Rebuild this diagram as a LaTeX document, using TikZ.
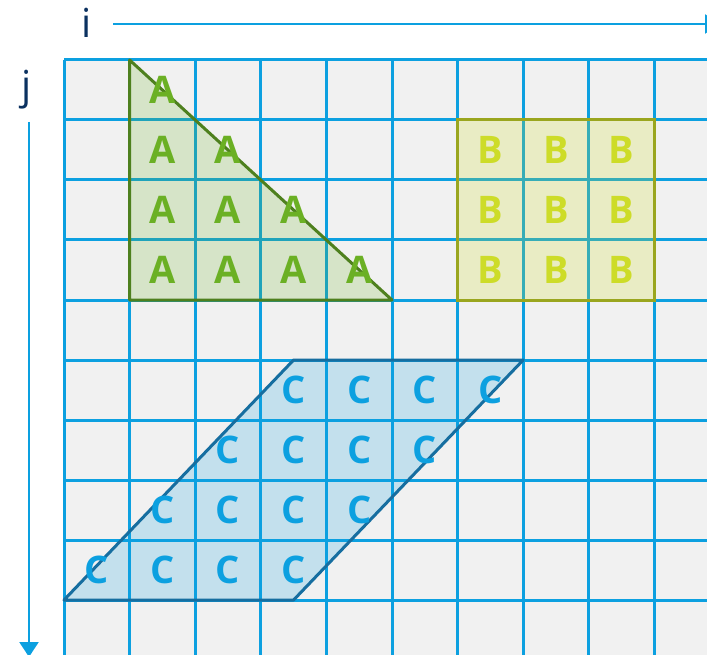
\documentclass[tikz,border=0pt]{standalone}
\usepackage{fontspec}
\setmainfont{Open Sans}
\usetikzlibrary{arrows.meta}
\definecolor{gridblue}{RGB}{12,160,224}
\definecolor{gridbg}{RGB}{241,241,241}
\definecolor{navy}{RGB}{11,49,96}
\definecolor{agreen}{RGB}{107,176,36}
\definecolor{aline}{RGB}{78,128,30}
\definecolor{byellow}{RGB}{205,220,40}
\definecolor{bline}{RGB}{154,166,30}
\definecolor{cblue}{RGB}{12,160,224}
\definecolor{cline}{RGB}{22,110,160}
\tikzset{
  gridline/.style={draw=gridblue, line width=3pt},
  axisarrow/.style={draw=gridblue, line width=2.4pt, -{Triangle[length=15pt,width=19pt]}},
  axislabel/.style={text=navy, inner sep=0pt, font=\fontsize{40}{44}\selectfont},
  letter/.style={inner sep=0pt, anchor=center, font=\bfseries\fontsize{38}{40}\selectfont},
  aletter/.style={letter, text=agreen},
  bletter/.style={letter, text=byellow},
  cletter/.style={letter, text=cblue},
  afill/.style={fill=agreen, fill opacity=0.2},
  bfill/.style={fill=byellow, fill opacity=0.22},
  cfill/.style={fill=cblue, fill opacity=0.2},
  aedge/.style={draw=aline, line width=3pt, line join=round},
  bedge/.style={draw=bline, line width=3pt},
  cedge/.style={draw=cline, line width=3pt, line join=round},
}
\begin{document}
\begin{tikzpicture}[x=1pt,y=-1pt]
\useasboundingbox (0,0) rectangle (707,655);
\clip (0,0) rectangle (707,655);
% axes
\node[axislabel] (ilab) at (87,23) {i};
\node[axislabel] (jlab) at (27,90) {j};
\coordinate (istart) at (113,24);
\coordinate (iend) at (720,24);
\coordinate (jstart) at (29,122);
\coordinate (jend) at (29,657);
\draw[axisarrow] (istart) -- (iend);
\draw[axisarrow] (jstart) -- (jend);
\begin{scope}[xshift=64pt, yshift=-60pt, x=65.6pt, y=-60pt]
  % grid
  \fill[gridbg] (0,0) rectangle (10,10);
  \foreach \k in {0,...,9} {
    \draw[gridline] (\k,0) -- (\k,10.5);
    \draw[gridline] (0,\k) -- (10.5,\k);
  }
  % shapes
  \path[afill] (1,0) -- (1,4) -- (5,4) -- cycle;
  \path[bfill] (6,1) rectangle (9,4);
  \path[cfill] (0,9) -- (3.5,5) -- (7,5) -- (3.5,9) -- cycle;
  \draw[aedge] (1,0) -- (1,4) -- (5,4) -- cycle;
  \draw[bedge] (6,1) rectangle (9,4);
  \draw[cedge] (0,9) -- (3.5,5) -- (7,5) -- (3.5,9) -- cycle;
  % letters A
  \node[aletter] (a00) at (1.5,0.5) {A};
  \foreach \c in {1,2} { \node[aletter] (a1\c) at (\c+0.5,1.5) {A}; }
  \foreach \c in {1,2,3} { \node[aletter] (a2\c) at (\c+0.5,2.5) {A}; }
  \foreach \c in {1,2,3,4} { \node[aletter] (a3\c) at (\c+0.5,3.5) {A}; }
  % letters B
  \foreach \r in {1,2,3} {
    \foreach \c in {6,7,8} { \node[bletter] (b\r\c) at (\c+0.5,\r+0.5) {B}; }
  }
  % letters C
  \foreach \c in {3,4,5,6} { \node[cletter] (c5\c) at (\c+0.5,5.5) {C}; }
  \foreach \c in {2,3,4,5} { \node[cletter] (c6\c) at (\c+0.5,6.5) {C}; }
  \foreach \c in {1,2,3,4} { \node[cletter] (c7\c) at (\c+0.5,7.5) {C}; }
  \foreach \c in {0,1,2,3} { \node[cletter] (c8\c) at (\c+0.5,8.5) {C}; }
\end{scope}
\end{tikzpicture}
\end{document}
